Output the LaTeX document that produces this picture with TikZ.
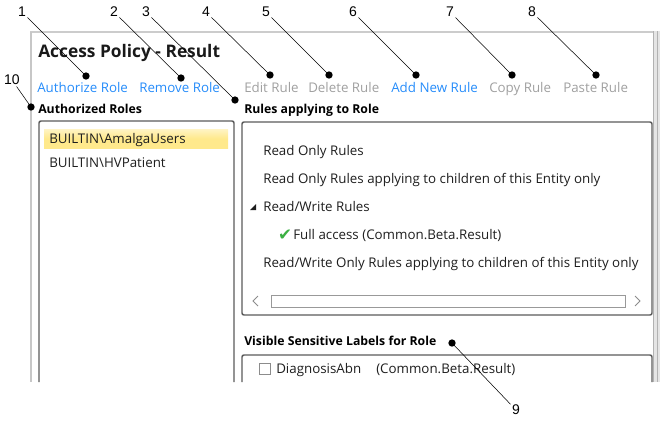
\documentclass[tikz,border=0pt]{standalone}
\usepackage{fontspec}
\setmainfont{Open Sans}
\newfontfamily\numfont{Liberation Sans}
\newfontfamily\symfont{DejaVu Sans}
\definecolor{linkblue}{RGB}{38,140,250}
\definecolor{disgray}{RGB}{160,160,160}
\definecolor{boxgray}{RGB}{90,90,90}
\definecolor{hlyellow}{RGB}{255,233,140}
\definecolor{chkgreen}{RGB}{60,176,67}
\definecolor{txt}{RGB}{30,30,30}
\begin{document}
\begin{tikzpicture}[x=0.75pt,y=-0.75pt]
\tikzset{
 ui/.style={font=\fontsize{10}{12}\selectfont, text=txt, inner sep=0, anchor=west, text height=1.5ex, text depth=.3ex},
 link/.style={ui, text=linkblue},
 dis/.style={ui, text=disgray},
 hdr/.style={ui, font=\fontsize{9.2}{11}\selectfont\bfseries, text=black},
 ttl/.style={ui, font=\fontsize{13}{15}\selectfont\bfseries, text=black!90},
 num/.style={font=\numfont\fontsize{10.5}{12}\selectfont, inner sep=1pt},
 lead/.style={draw=black, line width=0.4pt},
 dot/.style={circle, fill=black, inner sep=0, minimum size=5.5pt},
 pane/.style={draw=boxgray, line width=1.1pt, rounded corners=1.5pt},
 frame/.style={draw=black!22, line width=1pt},
}
\useasboundingbox (0,0) rectangle (661,422);

% window frame
\draw[draw=black!20, line width=2.2pt] (30,32) -- (654,32);
\draw[frame] (31,32) -- (31,382);
\fill[black!10] (653,31) rectangle (660,382);
\draw[black!30, line width=0.5pt] (653.5,31) -- (653.5,382);
\draw[black!30, line width=0.5pt] (657,31) -- (657,382);

% title and toolbar
\node[ttl] (title) at (38,53) {Access Policy - Result};
\node[link] (t1) at (37,88) {Authorize Role};
\node[link] (t2) at (139,88) {Remove Role};
\node[dis]  (t4) at (244,88) {Edit Rule};
\node[dis]  (t5) at (308,88) {Delete Rule};
\node[link] (t6) at (391,88) {Add New Rule};
\node[dis]  (t7) at (489,88) {Copy Rule};
\node[dis]  (t8) at (563,88) {Paste Rule};

% headers
\node[hdr] (h1) at (38,109) {Authorized Roles};
\node[hdr] (h2) at (244,109) {Rules applying to Role};
\node[hdr] (h3) at (244,341) {Visible Sensitive Labels for Role};

% left pane
\draw[pane] (39,382) -- (39,121) -- (234,121) -- (234,382);
\shade[top color=hlyellow!50, bottom color=hlyellow, middle color=hlyellow] (44,129) rectangle (228,148);
\node[ui] (r1) at (49,139) {BUILTIN\textbackslash AmalgaUsers};
\node[ui] (r2) at (49,163) {BUILTIN\textbackslash HVPatient};

% rules pane
\draw[pane] (242,122) rectangle (652,315);
\node[ui] (a1) at (263,151) {Read Only Rules};
\node[ui] (a2) at (263,179) {Read Only Rules applying to children of this Entity only};
\fill[txt] (250,210) -- (256,210) -- (256,204) -- cycle;
\node[ui] (a3) at (263,207) {Read/Write Rules};
\node[inner sep=0, text=chkgreen, font=\symfont\fontsize{12.5}{13}\selectfont] (chk) at (285,235) {✔};
\node[ui] (a4) at (293,235) {Full access (Common.Beta.Result)};
\node[ui] (a5) at (263,263) {Read/Write Only Rules applying to children of this Entity only};
\draw[black!45, line width=0.6pt] (258,296) -- (253,301) -- (258,306);
\draw[black!45, line width=0.6pt] (635,296) -- (640,301) -- (635,306);
\draw[black!40, line width=0.6pt] (271,295) rectangle (625,307);

% labels pane
\draw[pane] (242,382) -- (242,355) -- (652,355) -- (652,382);
\draw[black!45, line width=0.5pt] (259,363) rectangle (270,374);
\node[ui] (b1) at (276,369) {DiagnosisAbn};
\node[ui] (b2) at (376,369) {(Common.Beta.Result)};

% callouts
\node[num] (n1) at (22,12) {1};
\node[num] (n2) at (114,12) {2};
\node[num] (n3) at (146,12) {3};
\node[num] (n4) at (206,12) {4};
\node[num] (n5) at (266,12) {5};
\node[num] (n6) at (353,12) {6};
\node[num] (n7) at (450,12) {7};
\node[num] (n8) at (532,12) {8};
\node[num] (n9) at (516,410) {9};
\node[num] (n10) at (12,80) {10};

\node[dot] (d1) at (86,76) {};
\node[dot] (d2) at (181,78) {};
\node[dot] (d3) at (235,100) {};
\node[dot] (d4) at (270,75) {};
\node[dot] (d5) at (329,75) {};
\node[dot] (d6) at (416,75) {};
\node[dot] (d7) at (512,75) {};
\node[dot] (d8) at (596,75) {};
\node[dot] (d9) at (452,343) {};
\node[dot] (d10) at (31,107) {};

\foreach \i in {1,...,10} {\draw[lead] (n\i) -- (d\i.center);}
\end{tikzpicture}
\end{document}
